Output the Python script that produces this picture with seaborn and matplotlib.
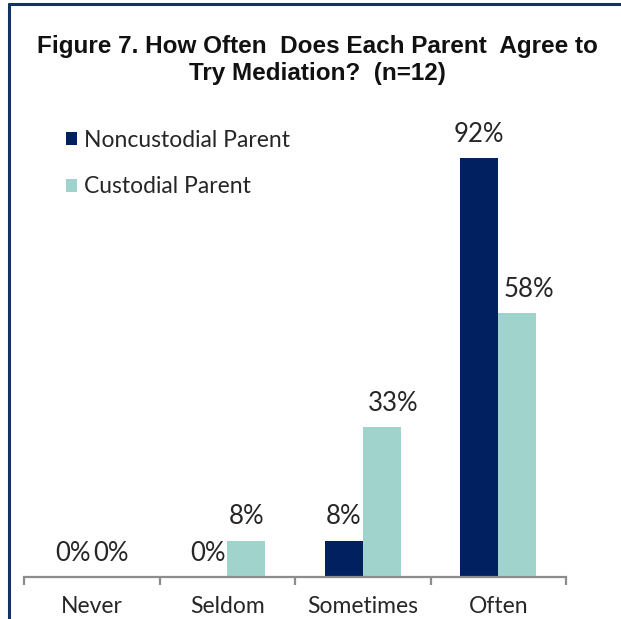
import matplotlib
matplotlib.use("Agg")
import matplotlib.pyplot as plt
from matplotlib.lines import Line2D
from matplotlib.patches import Patch
import seaborn as sns
import pandas as pd
import numpy as np

categories = ["Never", "Seldom", "Sometimes", "Often"]
noncustodial = [0, 0, 8, 92]
custodial = [0, 8, 33, 58]
series_names = ["Noncustodial Parent", "Custodial Parent"]
colors = ["#002060", "#A1D3CD"]
title = "Figure 7. How Often  Does Each Parent  Agree to\nTry Mediation?  (n=12)"

df = pd.DataFrame({
    "category": categories * 2,
    "value": noncustodial + custodial,
    "series": [series_names[0]] * 4 + [series_names[1]] * 4,
})

sns.set_theme(style="white")
plt.rcParams["font.family"] = ["Lato", "DejaVu Sans"]

W, H = 621, 619
fig = plt.figure(figsize=(W / 100, H / 100), dpi=100)
base_y = 577
px_per_pct = 4.555
ax = fig.add_axes([24 / W, (H - base_y) / H, (566 - 24) / W, 100 * px_per_pct / H])

sns.barplot(data=df, x="category", y="value", hue="series", order=categories,
            hue_order=series_names, palette=colors, width=0.56, saturation=1,
            ax=ax, legend=False, linewidth=0)

ax.set_ylim(0, 100)
ax.set_xlim(-0.5, 3.5)
ax.set_xlabel("")
ax.set_ylabel("")
ax.set_yticks([])
for s in ["left", "right", "top"]:
    ax.spines[s].set_visible(False)
ax.spines["bottom"].set_color("#8C8C8C")
ax.spines["bottom"].set_linewidth(1.6)

ax.set_xticks(range(len(categories)))
ax.set_xticklabels(categories, fontsize=16.5, color="#262626")
ax.tick_params(axis="x", which="major", length=0, pad=13.5)
ax.set_xticks(np.arange(-0.5, 4.0, 1.0), minor=True)
ax.tick_params(axis="x", which="minor", length=6, width=1.6, color="#8C8C8C",
               direction="out", bottom=True)

for i, container in enumerate(ax.containers):
    anns = ax.bar_label(container, labels=[f"{v:.0f}%" for v in container.datavalues],
                        padding=8, fontsize=18.5, color="#262626")
    # nudge the taller custodial labels right so they clear the neighbouring bar
    if i == 1:
        for ann, v in zip(anns, container.datavalues):
            if v > 20:
                x0, y0 = ann.xyann
                ann.xyann = (x0 + 8.5, y0)

handles = [Patch(facecolor=c, edgecolor="none") for c in colors]
fig.legend(handles, series_names, loc="upper left", bbox_to_anchor=(66 / W, 1 - 130 / H),
           frameon=False, fontsize=16.5, handlelength=0.5, handleheight=0.5,
           handletextpad=0.28, labelspacing=1.1, borderpad=0, borderaxespad=0,
           labelcolor="#262626")

fig.text(0.511, 1 - 60 / H, title, ha="center", va="center", fontsize=17.5,
         fontweight="bold", family=["Liberation Sans", "DejaVu Sans"],
         color="#111111", linespacing=1.22)

frame_color = "#13306B"
fig.add_artist(Line2D([9 / W, 1], [1 - 4 / H, 1 - 4 / H], transform=fig.transFigure,
                      color=frame_color, linewidth=2.2))
fig.add_artist(Line2D([9 / W, 9 / W], [0, 1 - 4 / H], transform=fig.transFigure,
                      color=frame_color, linewidth=2.2))

fig.savefig("out.png", dpi=100, facecolor="white")
